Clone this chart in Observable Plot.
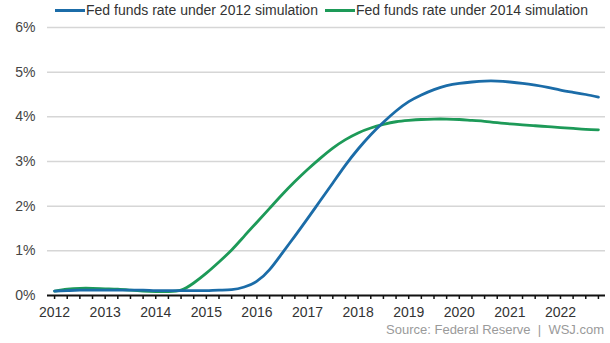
<!DOCTYPE html>
<html><head><meta charset="utf-8">
<script src="https://cdn.jsdelivr.net/npm/d3@7"></script>
<script src="https://cdn.jsdelivr.net/npm/@observablehq/plot@0.6"></script>
<style>
body{margin:0;background:#fff;font-family:"Liberation Sans",Arial,sans-serif;}
#wrap{width:610px;height:343px;overflow:hidden;position:relative;}
.legend{height:20px;line-height:20px;font-size:14px;color:#333;white-space:nowrap;position:relative;}
.item{position:absolute;top:0;}
.swatch{display:inline-block;width:30px;height:3px;vertical-align:middle;margin-right:1px;position:relative;top:-1px;}
.source{height:21px;line-height:16px;font-size:13px;color:#9a9a9a;text-align:right;padding-right:6px;white-space:pre;}
#chart svg{display:block;}
</style></head><body>
<div id="wrap">
<div class="legend" id="legend"></div>
<div id="chart"></div>
<div class="source">Source: Federal Reserve  |  WSJ.com</div>
</div>
<script>
const seriesNames = ["Fed funds rate under 2012 simulation", "Fed funds rate under 2014 simulation"];
const seriesColors = ["#1b6ca8", "#1d9a58"];
const quarters = [2012, 2012.25, 2012.5, 2012.75, 2013, 2013.25, 2013.5, 2013.75,
  2014, 2014.25, 2014.5, 2014.75, 2015, 2015.25, 2015.5, 2015.75,
  2016, 2016.25, 2016.5, 2016.75, 2017, 2017.25, 2017.5, 2017.75,
  2018, 2018.25, 2018.5, 2018.75, 2019, 2019.25, 2019.5, 2019.75,
  2020, 2020.25, 2020.5, 2020.75, 2021, 2021.25, 2021.5, 2021.75,
  2022, 2022.25, 2022.5, 2022.75];
const rate2012 = [0.10, 0.11, 0.12, 0.12, 0.12, 0.12, 0.12, 0.12,
  0.11, 0.11, 0.11, 0.11, 0.11, 0.12, 0.13, 0.19,
  0.32, 0.58, 0.95, 1.33, 1.72, 2.12, 2.52, 2.92,
  3.28, 3.60, 3.88, 4.13, 4.34, 4.49, 4.61, 4.70,
  4.75, 4.78, 4.80, 4.80, 4.78, 4.75, 4.71, 4.66,
  4.60, 4.55, 4.50, 4.44];
const rate2014 = [0.10, 0.14, 0.16, 0.16, 0.15, 0.14, 0.12, 0.10,
  0.09, 0.09, 0.12, 0.28, 0.50, 0.75, 1.02, 1.33,
  1.64, 1.95, 2.26, 2.55, 2.82, 3.07, 3.30, 3.49,
  3.64, 3.75, 3.83, 3.89, 3.92, 3.94, 3.95, 3.95,
  3.94, 3.92, 3.90, 3.87, 3.84, 3.82, 3.80, 3.78,
  3.76, 3.74, 3.72, 3.71];
const yearTicks = [2012, 2013, 2014, 2015, 2016, 2017, 2018, 2019, 2020, 2021, 2022];
const yTicks = [0, 1, 2, 3, 4, 5, 6];
const gridValues = [1, 2, 3, 4, 5, 6];

const d2012 = quarters.map((t, i) => ({t, v: rate2012[i]}));
const d2014 = quarters.map((t, i) => ({t, v: rate2014[i]}));

// legend
const legend = document.getElementById("legend");
const legendLefts = [55, 325];
seriesNames.forEach((n, i) => {
  const it = document.createElement("div");
  it.className = "item";
  it.style.left = legendLefts[i] + "px";
  it.innerHTML = `<span class="swatch" style="background:${seriesColors[i]}"></span>${n}`;
  legend.appendChild(it);
});

const chart = Plot.plot({
  width: 610, height: 302,
  marginTop: 7, marginBottom: 27, marginLeft: 47, marginRight: 5,
  style: {fontFamily: "Liberation Sans, Arial, sans-serif", fontSize: "14px", color: "#333", background: "white"},
  x: {domain: [2011.86, 2022.89]},
  y: {domain: [0, 6]},
  marks: [
    Plot.ruleY(gridValues, {stroke: "#d6d6d6", strokeWidth: 1.5}),
    Plot.line(d2014, {x: "t", y: "v", stroke: seriesColors[1], strokeWidth: 2.8, curve: "natural"}),
    Plot.line(d2012, {x: "t", y: "v", stroke: seriesColors[0], strokeWidth: 2.8, curve: "natural"}),
    Plot.ruleY([0], {stroke: "#111", strokeWidth: 2}),
    Plot.axisX({ticks: quarters, tickSize: 4, text: null, stroke: "#111", strokeWidth: 1.5, label: null}),
    Plot.axisX({ticks: yearTicks, tickSize: 0, tickPadding: 12, tickFormat: d => String(d), fill: "#333", label: null}),
    Plot.axisY({ticks: yTicks, tickSize: 0, tickPadding: 12, tickFormat: d => d + "%", fill: "#444", label: null})
  ]
});
document.getElementById("chart").appendChild(chart);
</script>
</body></html>
